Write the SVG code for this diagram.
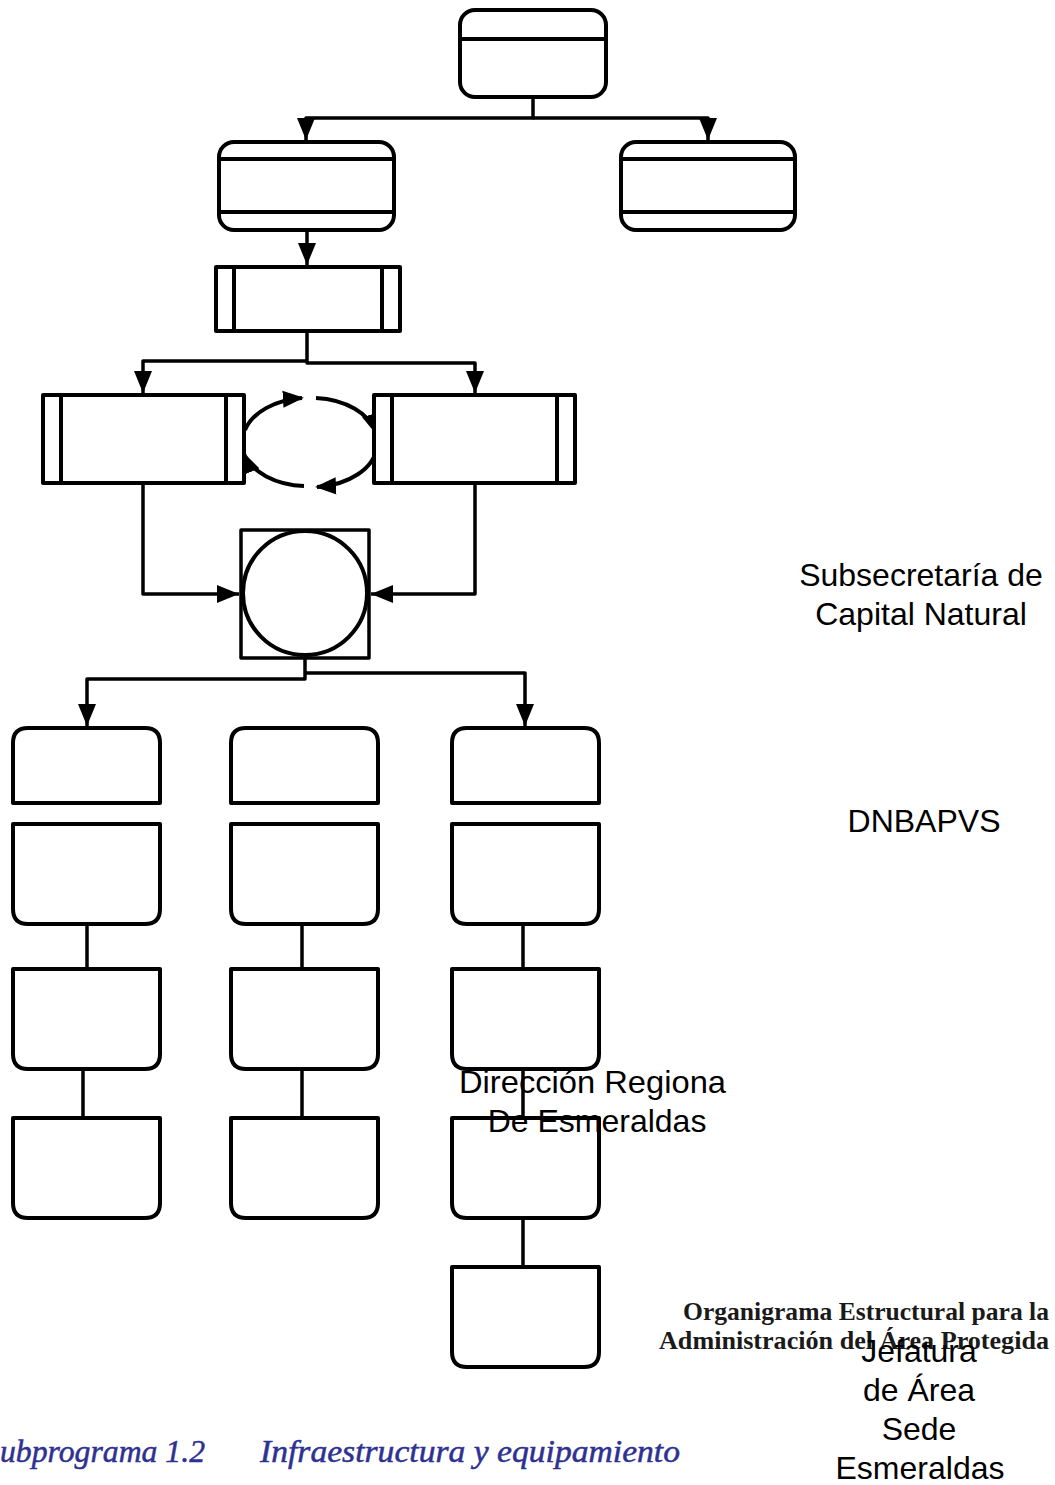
<svg xmlns="http://www.w3.org/2000/svg" width="1055" height="1485" viewBox="0 0 1055 1485">
<style>
.box{fill:#fff;stroke:#000;stroke-width:4;stroke-linejoin:round}
.ln{fill:none;stroke:#000;stroke-width:4}
.con{fill:none;stroke:#000;stroke-width:3.5;stroke-linejoin:round}
.arc{fill:none;stroke:#000;stroke-width:4}
.lbl{font-family:"Liberation Sans",Arial,sans-serif;font-size:32px;fill:#000;text-anchor:middle}
.ttl{font-family:"Liberation Serif","Times New Roman",serif;font-weight:bold;font-size:25px;fill:#1a1a1a;text-anchor:end}
.sub{font-family:"Liberation Serif","Times New Roman",serif;font-style:italic;font-size:31px;fill:#2e3192;stroke:#2e3192;stroke-width:0.5}
</style>
<defs>
<marker id="arr" viewBox="0 0 22 18" refX="22" refY="9" markerWidth="22" markerHeight="18" markerUnits="userSpaceOnUse" orient="auto">
<path d="M0,0 L22,9 L0,18 z" fill="#000"/>
</marker>
<marker id="arr2" viewBox="0 0 22 18" refX="20" refY="9" markerWidth="21" markerHeight="18" markerUnits="userSpaceOnUse" orient="auto">
<path d="M0,0 L22,9 L0,18 z" fill="#000"/>
</marker>
</defs>

<g id="connectors">
<path class="con" d="M533,97 V118 H306 V140" marker-end="url(#arr)"/>
<path class="con" d="M533,118 H708 V140" marker-end="url(#arr)"/>
<path class="con" d="M307,230 V265" marker-end="url(#arr)"/>
<path class="con" d="M307,331 V361 H143 V393" marker-end="url(#arr)"/>
<path class="con" d="M307,361 V363 H475 V393" marker-end="url(#arr)"/>
<path class="arc" d="M245,430 A66,44 0 0 1 302,398" marker-end="url(#arr2)"/>
<path class="arc" d="M316,398 A66,44 0 0 1 376,433" marker-end="url(#arr2)"/>
<path class="arc" d="M377,447 A66,44 0 0 1 317,487" marker-end="url(#arr2)"/>
<path class="arc" d="M304,486 A66,44 0 0 1 244,454" marker-end="url(#arr2)"/>
<circle cx="241" cy="435" r="3" fill="#4472c4"/>
<path class="con" d="M143,483 V594 H239" marker-end="url(#arr)"/>
<path class="con" d="M475,483 V594 H371" marker-end="url(#arr)"/>
<path class="con" d="M305,658 V679 H87 V726" marker-end="url(#arr)"/>
<path class="con" d="M305,673 H525 V726" marker-end="url(#arr)"/>
<path class="con" d="M87,924 V969"/>
<path class="con" d="M83,1069 V1118"/>
<path class="con" d="M302,924 V969"/>
<path class="con" d="M302,1069 V1118"/>
<path class="con" d="M523,924 V969"/>
<path class="con" d="M523,1069 V1118"/>
<path class="con" d="M523,1218 V1267"/>
</g>

<g id="n-top">
<rect class="box" x="460" y="10" width="146" height="87" rx="15"/>
<line class="ln" x1="460" y1="39" x2="606" y2="39"/>
</g>
<g id="n-l2">
<rect class="box" x="219" y="142" width="175" height="88" rx="15"/>
<line class="ln" x1="219" y1="159" x2="394" y2="159"/>
<line class="ln" x1="219" y1="212" x2="394" y2="212"/>
</g>
<g id="n-r2">
<rect class="box" x="621" y="142" width="174" height="88" rx="15"/>
<line class="ln" x1="621" y1="159" x2="795" y2="159"/>
<line class="ln" x1="621" y1="212" x2="795" y2="212"/>
</g>
<g id="n-3">
<rect class="box" x="216" y="267" width="184" height="64"/>
<line class="ln" x1="234" y1="267" x2="234" y2="331"/>
<line class="ln" x1="382" y1="267" x2="382" y2="331"/>
</g>
<g id="n-4l">
<rect class="box" x="43" y="395" width="201" height="88"/>
<line class="ln" x1="61" y1="395" x2="61" y2="483"/>
<line class="ln" x1="226" y1="395" x2="226" y2="483"/>
</g>
<g id="n-4r">
<rect class="box" x="374" y="395" width="201" height="88"/>
<line class="ln" x1="392" y1="395" x2="392" y2="483"/>
<line class="ln" x1="557" y1="395" x2="557" y2="483"/>
</g>
<g id="n-circle">
<rect class="box" style="stroke-width:3.5" x="241" y="530" width="128" height="128"/>
<circle class="box" cx="305" cy="593" r="62"/>
</g>

<g id="n-c1a"><path class="box" d="M13,803 V743 Q13,728 28,728 H145 Q160,728 160,743 V803 Z"/></g>
<g id="n-c2a"><path class="box" d="M231,803 V743 Q231,728 246,728 H363 Q378,728 378,743 V803 Z"/></g>
<g id="n-c3a"><path class="box" d="M452,803 V743 Q452,728 467,728 H584 Q599,728 599,743 V803 Z"/></g>

<g id="n-c1b"><path class="box" d="M13,824 H160 V909 Q160,924 145,924 H28 Q13,924 13,909 Z"/></g>
<g id="n-c2b"><path class="box" d="M231,824 H378 V909 Q378,924 363,924 H246 Q231,924 231,909 Z"/></g>
<g id="n-c3b"><path class="box" d="M452,824 H599 V909 Q599,924 584,924 H467 Q452,924 452,909 Z"/></g>

<g id="n-c1c"><path class="box" d="M13,969 H160 V1054 Q160,1069 145,1069 H28 Q13,1069 13,1054 Z"/></g>
<g id="n-c2c"><path class="box" d="M231,969 H378 V1054 Q378,1069 363,1069 H246 Q231,1069 231,1054 Z"/></g>
<g id="n-c3c"><path class="box" d="M452,969 H599 V1054 Q599,1069 584,1069 H467 Q452,1069 452,1054 Z"/></g>

<g id="n-c1d"><path class="box" d="M13,1118 H160 V1203 Q160,1218 145,1218 H28 Q13,1218 13,1203 Z"/></g>
<g id="n-c2d"><path class="box" d="M231,1118 H378 V1203 Q378,1218 363,1218 H246 Q231,1218 231,1203 Z"/></g>
<g id="n-c3d"><path class="box" d="M452,1118 H599 V1203 Q599,1218 584,1218 H467 Q452,1218 452,1203 Z"/></g>

<g id="n-c3e"><path class="box" d="M452,1267 H599 V1352 Q599,1367 584,1367 H467 Q452,1367 452,1352 Z"/></g>

<g id="t-subsecretaria">
<text class="lbl" x="921" y="586">Subsecretaría de</text>
<text class="lbl" x="921" y="625">Capital Natural</text>
</g>
<g id="t-dnbapvs">
<text class="lbl" x="924" y="832">DNBAPVS</text>
</g>
<g id="t-direccion">
<text class="lbl" x="459" y="1093" style="text-anchor:start" textLength="267" lengthAdjust="spacingAndGlyphs">Dirección Regiona</text>
<text class="lbl" x="597" y="1132">De Esmeraldas</text>
</g>
<g id="t-title">
<text class="ttl" x="1049" y="1320" textLength="366" lengthAdjust="spacingAndGlyphs">Organigrama Estructural para la</text>
<text class="ttl" x="1049" y="1349" textLength="390" lengthAdjust="spacingAndGlyphs">Administración del Área Protegida</text>
</g>
<g id="t-jefatura">
<text class="lbl" x="919" y="1362">Jefatura</text>
<text class="lbl" x="919" y="1401">de Área</text>
<text class="lbl" x="919" y="1440">Sede</text>
<text class="lbl" x="920" y="1479">Esmeraldas</text>
</g>
<g id="t-subprograma">
<text class="sub" x="0" y="1462" textLength="205" lengthAdjust="spacingAndGlyphs">ubprograma 1.2</text>
<text class="sub" x="260" y="1462" textLength="420" lengthAdjust="spacingAndGlyphs">Infraestructura y equipamiento</text>
</g>
</svg>
